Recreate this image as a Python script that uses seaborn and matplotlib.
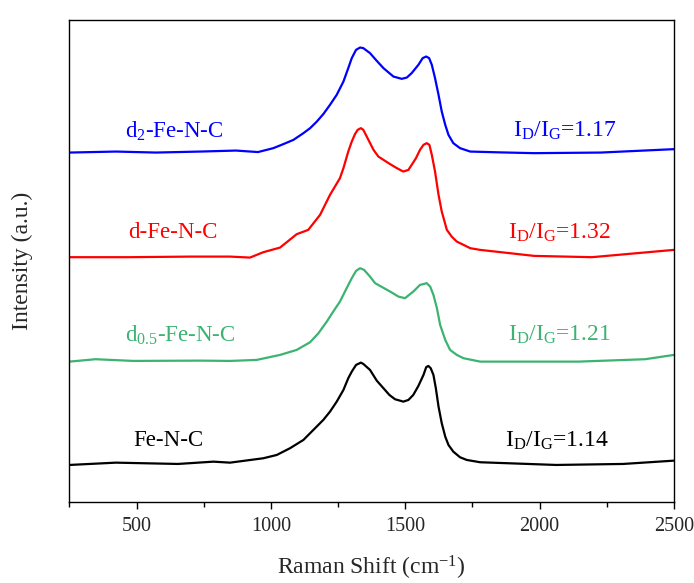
import matplotlib
matplotlib.use("Agg")
import matplotlib.pyplot as plt
from matplotlib.ticker import MultipleLocator
import seaborn as sns
import pandas as pd

# ---- data (vertical offsets included) ----
w_d2 = [250, 423, 572, 737, 870, 952, 1009, 1046, 1084, 1121, 1146, 1171, 1195, 1220, 1245, 1270,
        1288, 1301, 1317, 1332, 1344, 1369, 1394, 1419, 1456, 1487, 1506, 1524, 1549, 1565, 1578,
        1589, 1599, 1611, 1624, 1636, 1649, 1661, 1679, 1704, 1742, 1850, 1980, 2228, 2500]
i_d2 = [349.3, 350.3, 349.3, 350.3, 351.3, 349.8, 353.7, 357.7, 362, 368.7, 373.7, 380.3, 387.7,
        397, 407, 420.3, 433.7, 443.7, 452, 454.3, 453.7, 448.7, 441, 433.7, 425.3, 423, 424.3,
        428.7, 437, 443.7, 445.3, 443.7, 437, 423.7, 407, 390.3, 377, 367, 358.7, 353.7, 350.3,
        349.5, 348.7, 349.3, 352.7]

w_d = [250, 472, 703, 848, 922, 972, 1034, 1096, 1139, 1183, 1220, 1257, 1270, 1288, 1301, 1313,
       1323, 1335, 1344, 1363, 1382, 1400, 1419, 1444, 1469, 1493, 1512, 1524, 1540, 1555, 1568,
       1580, 1590, 1599, 1611, 1624, 1636, 1655, 1673, 1692, 1742, 1779, 1980, 2195, 2500]
i_d = [244.7, 244.7, 245.3, 245.3, 244.3, 249.7, 254.3, 267.7, 272, 287, 307, 323.7, 333.7, 350.3,
       360.3, 367.7, 372, 373.7, 372, 362, 352, 345.3, 342, 337.7, 333.7, 330.3, 332, 337, 343.7,
       352, 357, 358.7, 357, 347, 330.3, 307, 290.3, 272, 265.3, 260.3, 253.7, 252, 246, 244.7, 252]

w_d05 = [250, 347, 488, 737, 848, 947, 1034, 1096, 1146, 1177, 1208, 1232, 1257, 1282, 1301, 1317,
         1332, 1347, 1369, 1388, 1444, 1475, 1499, 1530, 1555, 1580, 1593, 1605, 1618, 1630, 1649,
         1667, 1692, 1717, 1779, 2144, 2393, 2500]
i_d05 = [140.3, 142.7, 141, 141.3, 141, 142, 147, 152, 159.7, 168.7, 180.3, 190.3, 200.3, 213.7,
         223.7, 231, 233.7, 232, 225.3, 218.7, 210.3, 205.3, 203.7, 210.3, 217, 218.7, 215.3, 207,
         193.7, 177, 162, 152, 147, 143.7, 140.3, 140.3, 142.7, 147]

w_fe = [250, 423, 654, 786, 848, 972, 1022, 1071, 1121, 1158, 1195, 1220, 1245, 1270, 1288, 1301,
        1317, 1335, 1344, 1369, 1394, 1419, 1441, 1462, 1493, 1512, 1530, 1549, 1568, 1578, 1586,
        1595, 1605, 1614, 1624, 1636, 1649, 1661, 1679, 1704, 1729, 1779, 2062, 2311, 2500]
i_fe = [37, 39.3, 38, 40.3, 39.3, 43.7, 47, 53.7, 62, 72, 82, 90.3, 100.3, 112, 123.7, 130.3, 137,
        139.3, 138, 132, 121.3, 113.7, 107, 102.7, 100.3, 102, 107, 116, 127, 134.7, 136, 133.7,
        127, 113.7, 95.3, 78.7, 65.3, 57, 50.3, 44.7, 42, 39.7, 37, 38, 41.3]

names = [r"d$_{2}$-Fe-N-C", "d-Fe-N-C", r"d$_{0.5}$-Fe-N-C", "Fe-N-C"]
ratios = [r"I$_{\mathrm{D}}$/I$_{\mathrm{G}}$=1.17", r"I$_{\mathrm{D}}$/I$_{\mathrm{G}}$=1.32",
          r"I$_{\mathrm{D}}$/I$_{\mathrm{G}}$=1.21", r"I$_{\mathrm{D}}$/I$_{\mathrm{G}}$=1.14"]
colors = ["#0000FF", "#FF0000", "#3CB371", "#000000"]
label_x = [457, 468, 457, 486]
ratio_x = [1902, 1883, 1883, 1872]
label_y = [371, 269, 167, 61]

# ---- style ----
sns.set_theme(style="ticks")
plt.rcParams["font.family"] = ["Liberation Serif", "DejaVu Serif"]
plt.rcParams["mathtext.fontset"] = "custom"
plt.rcParams["mathtext.rm"] = "Liberation Serif"
plt.rcParams["mathtext.it"] = "Liberation Serif:italic"
plt.rcParams["mathtext.bf"] = "Liberation Serif:bold"

fig = plt.figure(figsize=(6.94, 5.83), dpi=100)
ax = fig.add_axes([0.100, 0.139, 0.871, 0.827])

series = [(w_d2, i_d2), (w_d, i_d), (w_d05, i_d05), (w_fe, i_fe)]
for (w, i), c in zip(series, colors):
    df = pd.DataFrame({"w": w, "i": i})
    sns.lineplot(data=df, x="w", y="i", ax=ax, color=c, lw=1.6, estimator=None, sort=False,
                 solid_joinstyle="round", solid_capstyle="round")

for n, r, c, lx, rx, ly in zip(names, ratios, colors, label_x, ratio_x, label_y):
    ax.text(lx, ly, n, color=c, fontsize=16.5, va="center", ha="left")
    ax.text(rx, ly, r, color=c, fontsize=17, va="center", ha="left")

ax.set_xlim(250, 2500)
ax.set_ylim(0, 482)
ax.xaxis.set_major_locator(MultipleLocator(500))
ax.xaxis.set_minor_locator(MultipleLocator(250))
ax.set_yticks([])
ax.tick_params(axis="x", which="major", direction="out", length=5, width=1, labelsize=14.5,
               color="black", pad=6)
ax.tick_params(axis="x", which="minor", direction="out", length=3.5, width=1, color="black")
for s in ax.spines.values():
    s.set_visible(True)
    s.set_color("black")
    s.set_linewidth(1.0)
ax.set_xlabel(r"Raman Shift (cm$^{\mathrm{-1}}$)", fontsize=17, labelpad=13)
ax.set_ylabel("Intensity (a.u.)", fontsize=17, labelpad=26)
ax.set_facecolor("white")

fig.savefig("out.png", dpi=100, facecolor="white")
